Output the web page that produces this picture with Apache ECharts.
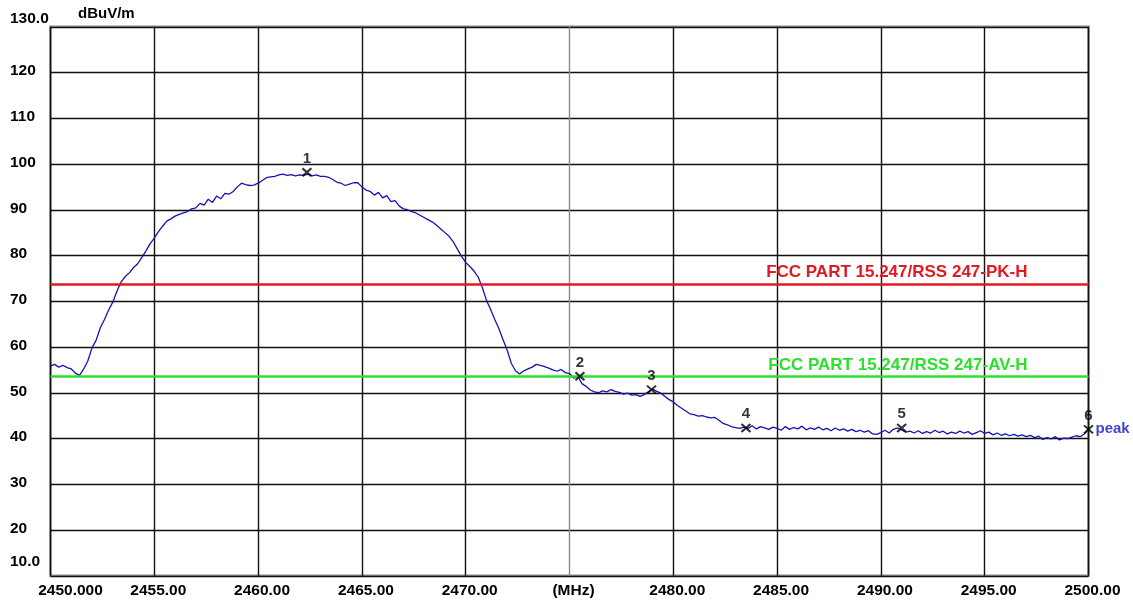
<!DOCTYPE html>
<html><head><meta charset="utf-8">
<script src="https://cdn.jsdelivr.net/npm/echarts@6/dist/echarts.min.js"></script>
<style>html,body{margin:0;padding:0;background:#fff}#c{width:1133px;height:606px}</style>
</head><body><div id="c"></div>
<script>
// ---- data ----
const freqStart = 2450.0;   // MHz
const freqStep = 0.2;       // MHz per sample
const traceLevels = [
  55.8, 56.2, 55.6, 56.0, 55.5,
  55.2, 54.3, 53.8, 55.2, 57.0,
  59.8, 61.5, 64.2, 66.0, 68.1,
  69.8, 72.2, 74.2, 75.4, 76.2,
  77.4, 78.2, 79.6, 81.0, 82.6,
  83.8, 85.2, 86.4, 87.5, 88.0,
  88.6, 89.0, 89.3, 89.6, 90.2,
  90.4, 91.4, 91.0, 92.3, 91.6,
  93.0, 92.4, 93.6, 93.4, 94.0,
  95.0, 95.8, 95.5, 95.3, 95.4,
  95.8, 96.4, 97.0, 97.2, 97.3,
  97.6, 97.8, 97.5, 97.7, 97.4,
  97.6, 97.5, 97.8, 97.4, 97.6,
  97.3, 97.3, 97.1, 96.6, 96.0,
  95.8, 95.3, 95.6, 95.9, 95.9,
  95.0, 94.3, 94.0, 93.2, 93.8,
  92.6, 93.1, 91.8, 92.0, 90.8,
  90.2, 90.0, 89.6, 89.3, 88.8,
  88.3, 87.8, 87.3, 86.6, 85.8,
  85.0, 84.2, 83.0, 81.4, 79.8,
  78.5, 77.6, 76.6, 75.3, 73.0,
  70.2, 68.2, 66.0, 64.0, 61.6,
  59.3, 56.4, 54.8, 54.1, 54.8,
  55.2, 55.6, 56.2, 56.0, 55.7,
  55.4, 55.0, 54.7, 55.1, 54.4,
  54.2, 53.2, 53.6, 52.0, 51.4,
  50.6, 50.2, 50.0, 50.4, 50.2,
  50.7, 50.3, 50.1, 49.7, 49.9,
  49.5, 49.6, 49.2, 49.6, 50.2,
  50.8, 50.3, 49.9, 49.2, 48.5,
  48.0, 47.2, 46.6, 46.0, 45.4,
  45.2, 44.9, 45.0, 44.7, 44.5,
  44.6, 44.0, 43.3, 43.0, 42.6,
  42.4, 42.2, 42.5, 42.2, 42.8,
  42.1, 42.6, 42.3, 42.0, 42.5,
  42.2, 41.8, 42.6, 42.0, 42.4,
  42.1, 42.7, 41.9, 42.3, 42.0,
  42.5, 41.9, 42.2, 41.7, 42.3,
  41.8, 42.1, 41.6, 42.0, 41.5,
  41.8, 41.4, 41.7, 41.0, 40.9,
  41.3, 41.8, 41.2, 42.0, 42.3,
  41.9, 41.4, 41.6, 41.2, 41.7,
  41.1, 41.5, 41.2, 41.8, 41.3,
  41.6, 41.0, 41.4, 41.1, 41.6,
  41.2, 41.5, 40.9, 41.3, 41.7,
  41.1, 41.4, 40.8, 41.2, 40.7,
  41.0, 40.6, 40.9, 40.5, 40.8,
  40.4, 40.7, 40.2, 40.5, 39.8,
  40.2, 39.9, 40.4, 39.7, 40.1,
  40.0, 40.3, 40.6, 40.4, 41.0,
  42.0
];
const markerNames  = ['1', '2', '3', '4', '5', '6'];
const markerFreqs  = [2462.35, 2475.5, 2478.95, 2483.5, 2491.0, 2500.0];
const markerLevels = [98.2, 53.6, 50.7, 42.3, 42.3, 42.0];
const peakNote = 'peak';
const limitNames  = ['FCC PART 15.247/RSS 247-PK-H', 'FCC PART 15.247/RSS 247-AV-H'];
const limitLevels = [73.8, 53.5];
const xTickValues = [2450, 2455, 2460, 2465, 2470, 2475, 2480, 2485, 2490, 2495, 2500];
const xTickLabels = ['2450.000', '2455.00', '2460.00', '2465.00', '2470.00', '(MHz)', '2480.00', '2485.00', '2490.00', '2495.00', '2500.00'];
const yTickValues = [10, 20, 30, 40, 50, 60, 70, 80, 90, 100, 110, 120, 130];
const yTickLabels = ['10.0', '20', '30', '40', '50', '60', '70', '80', '90', '100', '110', '120', '130.0'];
const yUnit = 'dBuV/m';

// ---- styles ----
const limitColors = ['#e01a22', '#2ee02e'];
const FONT = '"Liberation Sans", Arial, sans-serif';

const traceData = traceLevels.map((v, i) => [+(freqStart + i * freqStep).toFixed(2), v]);
const markerData = markerFreqs.map((f, i) => ({ value: [f, markerLevels[i]], name: markerNames[i] }));

const chart = echarts.init(document.getElementById('c'), null, { renderer: 'canvas' });
const splitColors = xTickValues.map(v => v === 2475 ? '#8a8a8a' : '#111111');

chart.setOption({
  animation: false,
  backgroundColor: '#ffffff',
  grid: { left: 50.5, right: 44.5, top: 26.75, bottom: 30.25, show: true, borderColor: '#8f8f8f', borderWidth: 2.5, backgroundColor: '#ffffff' },
  graphic: [{
    type: 'text', left: 78, top: 6,
    style: { text: yUnit, font: 'bold 15px ' + FONT, fill: '#000' }
  }],
  xAxis: {
    type: 'value', min: 2450, max: 2500, interval: 5,
    axisLine: { show: false }, axisTick: { show: false },
    splitLine: { show: true, lineStyle: { color: splitColors, width: 1.4 } },
    axisLabel: {
      margin: 7, showMinLabel: true, showMaxLabel: true,
      formatter: v => {
        const i = xTickValues.indexOf(Math.round(v));
        const t = i >= 0 ? xTickLabels[i] : '';
        return i === 0 ? '{first|' + t + '}' : '{n|' + t + '}';
      },
      rich: {
        n: { padding: [0, 0, 0, 8], fontFamily: FONT, fontWeight: 'bold', fontSize: 15.5, color: '#000' },
        first: { padding: [0, 0, 0, 40], fontFamily: FONT, fontWeight: 'bold', fontSize: 15.5, color: '#000' }
      }
    }
  },
  yAxis: {
    type: 'value', min: 10, max: 130, interval: 10,
    axisLine: { show: false }, axisTick: { show: false },
    splitLine: { show: true, lineStyle: { color: '#111111', width: 1.4 } },
    axisLabel: {
      align: 'left', margin: 40.5, showMinLabel: true, showMaxLabel: true,
      formatter: v => {
        const i = yTickValues.indexOf(Math.round(v));
        const t = i >= 0 ? yTickLabels[i] : '';
        if (v === 130) return '{top|' + t + '}';
        if (v === 10) return '{bot|' + t + '}';
        return '{n|' + t + '}';
      },
      rich: {
        n: { padding: [0, 0, 3, 0], fontFamily: FONT, fontWeight: 'bold', fontSize: 15.5, color: '#000' },
        top: { padding: [0, 0, 16, 0], fontFamily: FONT, fontWeight: 'bold', fontSize: 15.5, color: '#000' },
        bot: { padding: [0, 0, 28, 0], fontFamily: FONT, fontWeight: 'bold', fontSize: 15.5, color: '#000' }
      }
    }
  },
  series: [
    {
      type: 'line', name: 'trace', data: traceData,
      showSymbol: false, symbol: 'none', sampling: null,
      lineStyle: { color: '#1414b0', width: 1.3 },
      z: 3,
      markLine: {
        silent: true, symbol: ['none', 'none'], animation: false,
        data: limitLevels.map((lv, i) => ({
          yAxis: lv, name: limitNames[i],
          lineStyle: { color: limitColors[i], width: 2.6, type: 'solid' },
          label: {
            show: true, position: 'insideEndTop', formatter: limitNames[i], distance: 3,
            padding: [0, 58, 0, 0],
            color: limitColors[i], fontFamily: FONT, fontWeight: 'bold', fontSize: 17
          }
        }))
      }
    },
    {
      type: 'scatter', name: 'markers', data: markerData, clip: false, z: 5,
      symbol: 'path://M0,0L10,10M10,0L0,10', symbolSize: [9, 8],
      itemStyle: { color: 'none', borderColor: '#000', borderWidth: 2 },
      label: {
        show: true, position: 'top', distance: 0, formatter: p => p.name,
        color: '#000', fontFamily: FONT, fontWeight: 'bold', fontSize: 15
      }
    },
    {
      type: 'scatter', name: 'peakNote', clip: false, z: 5,
      data: [[markerFreqs[5], markerLevels[5]]],
      symbolSize: 0,
      label: {
        show: true, position: 'right', distance: 7, formatter: peakNote,
        color: '#1212c0', fontFamily: FONT, fontWeight: 'bold', fontSize: 15
      }
    }
  ]
});
</script>
</body></html>
